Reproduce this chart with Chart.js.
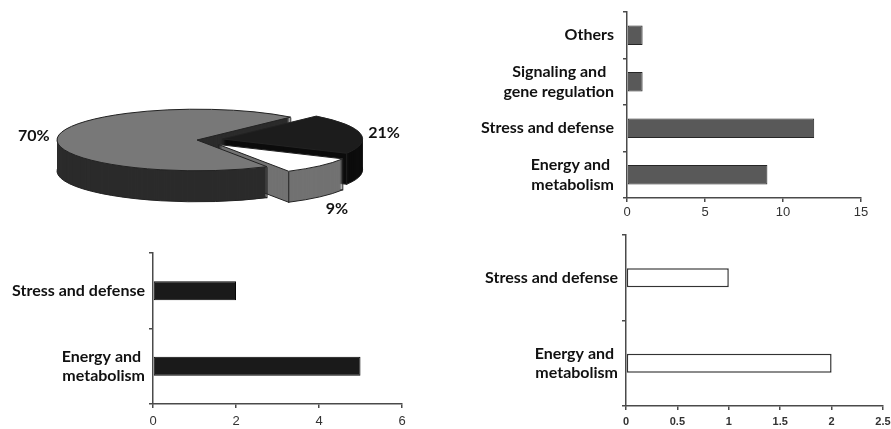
<!DOCTYPE html>
<html>
<head>
<meta charset="utf-8">
<script src="https://cdn.jsdelivr.net/npm/chart.js"></script>
<style>
  html, body { margin: 0; padding: 0; background: #fff; }
  body { width: 891px; height: 429px; position: relative; overflow: hidden; }
  canvas { position: absolute; }
</style>
</head>
<body>
<canvas id="pie" width="430" height="240" style="left:0;top:0"></canvas>
<canvas id="allBars" width="421" height="232" style="left:470px;top:0"></canvas>
<canvas id="upBars" width="430" height="189" style="left:0;top:240px"></canvas>
<canvas id="downBars" width="421" height="199" style="left:470px;top:230px"></canvas>
<script>
// ---- data ----
const pieShares = [70, 21, 9];

const allCategories = ['Others', ['Signaling and  ', 'gene regulation'], 'Stress and defense', ['Energy and ', 'metabolism']];
const allCounts = [1, 1, 12, 9];
const allTicks = [0, 5, 10, 15];

const upCategories = ['Stress and defense', ['Energy and ', 'metabolism']];
const upCounts = [2, 5];
const upTicks = [0, 2, 4, 6];

const downCategories = ['Stress and defense', ['Energy and ', 'metabolism']];
const downCounts = [1, 2];
const downTicks = [0, 0.5, 1, 1.5, 2, 2.5];

// ---- styling ----
const AXIS = '#4a4a4a';
const LABEL_FONT = { family: 'Lato, "Open Sans", sans-serif', weight: 'bold', size: 16, lineHeight: 1.2 };

const sliceFills = ['#787878', '#1c1c1c', '#ffffff'];
const sliceWalls = ['#2b2b2b', '#0c0c0c', '#727272'];
const EXPLODE = [0, 26, 30];
const TILT = 0.22;
const DEPTH = 31;
const EDGE = '#222';
const LABEL_GAP = 24;

function squash(ctx, cx, cy, d) {
  ctx.translate(cx, cy + d);
  ctx.scale(1, TILT);
  ctx.translate(-cx, -cy);
}
function shift(arc, i) {
  const mid = (arc.startAngle + arc.endAngle) / 2;
  return [Math.cos(mid) * EXPLODE[i], Math.sin(mid) * EXPLODE[i]];
}
function slicePath(ctx, arc, i) {
  const [dx, dy] = shift(arc, i);
  ctx.beginPath();
  ctx.moveTo(arc.x + dx, arc.y + dy);
  ctx.arc(arc.x + dx, arc.y + dy, arc.outerRadius, arc.startAngle, arc.endAngle);
  ctx.closePath();
}

// Draws the pie as a tilted, extruded disc: stacked wall layers first, then the
// arc elements' own top faces under a vertical squash.
const tiltedPie = {
  id: 'tiltedPie',
  beforeDatasetsDraw(chart) {
    const ctx = chart.ctx;
    const arcs = chart.getDatasetMeta(0).data;
    const cx = arcs[0].x, cy = arcs[0].y;
    const toScreen = (px, py, d) => [px, cy + d + (py - cy) * TILT];

    for (let d = DEPTH; d >= 1; d--) {
      arcs.forEach((arc, i) => {
        ctx.save(); squash(ctx, cx, cy, d); slicePath(ctx, arc, i); ctx.restore();
        ctx.fillStyle = sliceWalls[i];
        ctx.fill();
        if (d === DEPTH) { ctx.strokeStyle = EDGE; ctx.lineWidth = 1; ctx.stroke(); }
        const [dx, dy] = shift(arc, i);
        const ax = arc.x + dx, ay = arc.y + dy, r = arc.outerRadius;
        const corners = [
          [ax, ay],
          [ax + r * Math.cos(arc.startAngle), ay + r * Math.sin(arc.startAngle)],
          [ax + r * Math.cos(arc.endAngle), ay + r * Math.sin(arc.endAngle)]
        ];
        ctx.fillStyle = EDGE;
        corners.forEach(([px, py]) => {
          const [sx, sy] = toScreen(px, py, d);
          ctx.fillRect(sx - 0.6, sy - 0.5, 1.2, 1);
        });
      });
    }

    arcs.forEach((arc, i) => {
      const [dx, dy] = shift(arc, i);
      ctx.save(); squash(ctx, cx, cy, 0); ctx.translate(dx, dy); arc.draw(ctx); ctx.restore();
    });

    arcs.forEach((arc, i) => {
      ctx.save(); squash(ctx, cx, cy, 0); slicePath(ctx, arc, i); ctx.restore();
      ctx.strokeStyle = EDGE; ctx.lineWidth = 1; ctx.stroke();
    });
    return false;
  },
  afterDraw(chart) {
    const ctx = chart.ctx;
    const arcs = chart.getDatasetMeta(0).data;
    const cy = arcs[0].y;
    const total = pieShares.reduce((a, b) => a + b, 0);
    ctx.save();
    ctx.font = 'bold 16px Lato, "Open Sans", sans-serif';
    ctx.fillStyle = '#111';
    ctx.textAlign = 'center';
    ctx.textBaseline = 'middle';
    arcs.forEach((arc, i) => {
      const mid = (arc.startAngle + arc.endAngle) / 2;
      const [dx, dy] = shift(arc, i);
      const r = arc.outerRadius + LABEL_GAP;
      const px = arc.x + dx + r * Math.cos(mid);
      const py = arc.y + dy + r * Math.sin(mid);
      let sy = cy + (py - cy) * TILT;
      if (Math.sin(mid) > 0.3) sy += DEPTH + 8;
      ctx.fillText(Math.round(pieShares[i] / total * 100) + '%', px, sy);
    });
    ctx.restore();
  }
};

function drawPie() {
  new Chart(document.getElementById('pie'), {
    type: 'pie',
    data: {
      labels: ['Set 1', 'Set 2', 'Set 3'],
      datasets: [{
        data: pieShares,
        backgroundColor: sliceFills,
        borderWidth: 0,
        radius: 140,
        rotation: 150
      }]
    },
    options: {
      responsive: false,
      animation: false,
      devicePixelRatio: 1,
      layout: { padding: { left: 0, right: 36, top: 40, bottom: 0 } },
      plugins: { legend: { display: false }, tooltip: { enabled: false } }
    },
    plugins: [tiltedPie]
  });
}

function drawBars(id, categories, counts, ticks, look, frame) {
  new Chart(document.getElementById(id), {
    type: 'bar',
    data: {
      labels: categories,
      datasets: [{
        data: counts,
        backgroundColor: look.fill,
        borderColor: look.edge,
        borderWidth: look.edgeWidth,
        borderSkipped: false,
        categoryPercentage: 1,
        barPercentage: look.barPct
      }]
    },
    options: {
      indexAxis: 'y',
      responsive: false,
      animation: false,
      devicePixelRatio: 1,
      layout: { padding: { left: 0, top: frame.top, right: frame.right, bottom: 0 } },
      plugins: { legend: { display: false }, tooltip: { enabled: false } },
      scales: {
        x: {
          min: ticks[0],
          max: ticks[ticks.length - 1],
          afterBuildTicks: s => { s.ticks = ticks.map(v => ({ value: v })); },
          afterFit: s => { s.height = frame.xh; s.paddingLeft = 0; s.paddingRight = 0; },
          ticks: { color: '#333', font: look.tickFont, padding: frame.xPad, maxRotation: 0, autoSkip: false,
                   callback: v => String(v) },
          grid: { drawOnChartArea: false, drawTicks: true, tickLength: 4, color: AXIS, lineWidth: 1.5 },
          border: { color: AXIS, width: 1.5 }
        },
        y: {
          afterFit: s => { s.width = frame.yw; s.paddingTop = 0; s.paddingBottom = 0; },
          ticks: { color: '#111', font: LABEL_FONT, padding: frame.yPad, autoSkip: false },
          grid: { drawOnChartArea: false, drawTicks: true, tickLength: 4, color: AXIS, lineWidth: 1.5 },
          border: { color: AXIS, width: 1.5 }
        }
      }
    }
  });
}

function drawAll() {
  drawPie();
  drawBars('allBars', allCategories, allCounts, allTicks,
    { fill: '#595959', edge: '#262626', edgeWidth: 1, barPct: 0.415,
      tickFont: { family: '"Liberation Sans", Arial, sans-serif', size: 13 } },
    { top: 12, right: 30, yw: 157, xh: 34, xPad: 3, yPad: 9 });
  drawBars('upBars', upCategories, upCounts, upTicks,
    { fill: '#1a1a1a', edge: '#050505', edgeWidth: 1, barPct: 0.25,
      tickFont: { family: '"Liberation Sans", Arial, sans-serif', size: 13 } },
    { top: 13, right: 28, yw: 153, xh: 25, xPad: 6, yPad: 4 });
  drawBars('downBars', downCategories, downCounts, downTicks,
    { fill: '#ffffff', edge: '#333333', edgeWidth: 1.5, barPct: 0.22,
      tickFont: { family: '"Liberation Sans", Arial, sans-serif', size: 11, weight: 'bold' } },
    { top: 5, right: 8, yw: 156, xh: 23, xPad: 5, yPad: 4 });
}

Promise.all([
  document.fonts.load('bold 16px Lato'),
  document.fonts.load('13px "Liberation Sans"')
]).catch(() => {}).then(drawAll);
</script>
</body>
</html>
